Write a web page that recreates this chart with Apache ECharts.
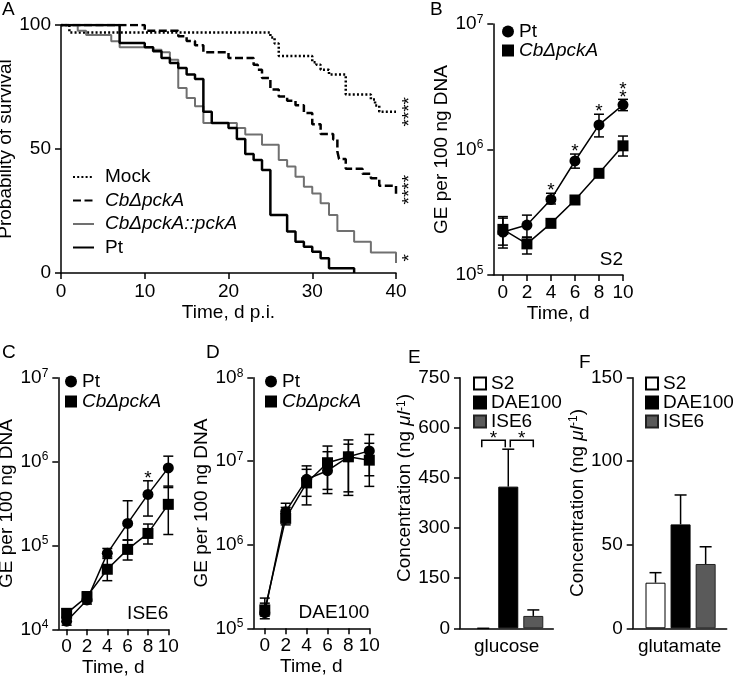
<!DOCTYPE html>
<html>
<head>
<meta charset="utf-8">
<script src="https://cdn.jsdelivr.net/npm/echarts@6/dist/echarts.min.js"></script>
<style>
  body { margin: 0; background: #fff; }
  .panel { position: absolute; left: 0; top: 0; width: 733px; height: 680px; }
</style>
</head>
<body>
<div id="pa" class="panel"></div>
<div id="pb" class="panel"></div>
<div id="pc" class="panel"></div>
<div id="pd" class="panel"></div>
<div id="pe" class="panel"></div>
<div id="pf" class="panel"></div>
<script>
var FONT = '"Liberation Sans", Arial, sans-serif';
var FS = 19;

// A - survival, [day, percent]
var mockSurv = [[0,100],[1,97],[25,95],[25.5,92.5],[26,87.5],[30,85],[30.5,84],[31,82],[32,80],[34,72],[37,70],[37.5,67.5],[38,65],[40,65]];
var mutSurv = [[0,100],[10,97.7],[14,95.5],[15,93.5],[16,91.8],[17,89],[20,86.7],[23,84],[23.5,82],[24,78.6],[25,74],[26,71.2],[27,69.5],[28,67.6],[29,64.5],[30,60],[31,56],[32.5,53.8],[33,49],[33.2,46],[34,42],[36,40],[37,38.2],[38,35.2],[40,32]];
var compSurv = [[0,100],[2,97.7],[3,96],[6,93.4],[7,91],[11,90],[12,89],[13,86],[14,74.6],[15,70.6],[16,67.2],[17,60.5],[21,58.5],[22,55.8],[24,51.7],[26,45.6],[27,42.9],[28,38.8],[29,34.8],[30,32.1],[31,28.1],[32,23.4],[33,16.9],[35,12.6],[37,8.3],[40,4]];
var ptSurv = [[0,100],[7,92.7],[10,91],[11,89.4],[12,86.7],[13,84.7],[14,82.7],[15,80],[16,78.2],[17,65],[18,60.5],[20,58.5],[21,54],[22,48],[23,45.6],[24,41.5],[25,23.4],[27,16.7],[28,12.6],[29,10.6],[30,8.6],[31,5.9],[32,1.9],[35,0]];

// B-D - genome equivalents per 100 ng DNA
var days = [0, 2, 4, 6, 8, 10];
var s2Pt    = [2.2e5, 2.5e5, 4.0e5, 8.1e5, 1.57e6, 2.27e6];
var s2PtLo  = [1.64e5, 2.0e5, 3.68e5, 7.1e5, 1.26e6, 2.04e6];
var s2PtHi  = [2.84e5, 3.0e5, 4.48e5, 9.2e5, 1.91e6, 2.51e6];
var s2Mut   = [2.31e5, 1.77e5, 2.58e5, 3.96e5, 6.46e5, 1.07e6];
var s2MutLo = [1.73e5, 1.47e5, 2.45e5, 3.8e5, 6.2e5, 8.87e5];
var s2MutHi = [2.92e5, 2.0e5, 2.72e5, 4.15e5, 6.75e5, 1.28e6];

var isePt    = [1.25e4, 2.24e4, 8.05e4, 1.83e5, 4.06e5, 8.4e5];
var isePtLo  = [1.12e4, 2.0e4, 7.0e4, 1.16e5, 2.24e5, 4.9e5];
var isePtHi  = [1.4e4, 2.5e4, 9.2e4, 3.41e5, 5.9e5, 1.16e6];
var iseMut   = [1.55e4, 2.45e4, 5.2e4, 8.97e4, 1.39e5, 3.09e5];
var iseMutLo = [1.38e4, 2.15e4, 3.8e4, 6.7e4, 1.04e5, 1.35e5];
var iseMutHi = [1.75e4, 2.8e4, 7.3e4, 1.16e5, 1.8e5, 5.1e5];

var daePt    = [1.54e5, 2.49e6, 6.08e6, 7.7e6, 1.13e7, 1.33e7];
var daePtLo  = [1.3e5, 1.9e6, 3.8e6, 4.6e6, 4.3e6, 6.7e6];
var daePtHi  = [2.3e5, 3.14e6, 8.8e6, 1.52e7, 1.8e7, 2.09e7];
var daeMut   = [1.66e5, 2.07e6, 5.5e6, 9.6e6, 1.13e7, 1.03e7];
var daeMutLo = [1.4e5, 1.73e6, 3.0e6, 4.1e6, 3.9e6, 5.0e6];
var daeMutHi = [2.0e5, 2.8e6, 8.0e6, 1.3e7, 1.6e7, 1.64e7];

// E, F - concentrations in media
var media = ['S2', 'DAE100', 'ISE6'];
var glucose     = [0, 424, 37];
var glucoseHi   = [0, 536, 55];
var glutamate   = [27.3, 62.2, 38.5];
var glutamateHi = [33.3, 79.8, 48.8];
var mediaColors = ['#fff', '#000', '#5a5a5a'];

//---------------------------------------------
var BLACK = '#000';

function axisLine() { return { show: true, onZero: false, lineStyle: { color: BLACK, width: 1.5 } }; }
function axisTick(vals) {
    var t = { show: true, length: 6, lineStyle: { color: BLACK, width: 1.5 } };
    if (vals) t.customValues = vals;
    return t;
}
function label(extra) {
    var l = { color: BLACK, fontSize: FS, fontFamily: FONT, margin: 9 };
    for (var k in extra) l[k] = extra[k];
    return l;
}
function nameStyle(extra) {
    var s = { color: BLACK, fontSize: FS, fontFamily: FONT };
    for (var k in extra) s[k] = extra[k];
    return s;
}
var supRich = {
    b: { fontSize: FS, fontFamily: FONT, color: BLACK, lineHeight: 21 },
    s: { fontSize: 12, fontFamily: FONT, color: BLACK, verticalAlign: 'top', lineHeight: 12 }
};
function pow10(v) {
    return '{b|10}{s|' + Math.round(Math.log(v) / Math.LN10) + '}';
}
function txt(x, y, s, align) {
    return { type: 'text', x: x, y: y, silent: true,
        style: { text: s, fontSize: FS, fontFamily: FONT, fill: BLACK,
                 align: align || 'left', textAlign: align || 'left',
                 verticalAlign: 'top', textVerticalAlign: 'top' } };
}

function errSeries(xs, lo, hi, cap, lowerCap) {
    var data = xs.map(function (x, i) { return [x, lo[i], hi[i]]; });
    return {
        type: 'custom', data: data, silent: true, z: 1, encode: { x: 0, y: [1, 2] },
        renderItem: function (params, api) {
            var x = api.value(0);
            var a = api.coord([x, api.value(1)]);
            var b = api.coord([x, api.value(2)]);
            var st = { stroke: BLACK, lineWidth: 1.5 };
            var kids = [
                { type: 'line', shape: { x1: a[0], y1: a[1], x2: b[0], y2: b[1] }, style: st },
                { type: 'line', shape: { x1: b[0] - cap, y1: b[1], x2: b[0] + cap, y2: b[1] }, style: st }
            ];
            if (lowerCap) kids.push({ type: 'line', shape: { x1: a[0] - cap, y1: a[1], x2: a[0] + cap, y2: a[1] }, style: st });
            return { type: 'group', children: kids };
        }
    };
}

function starSeries(points, texts, dy, rot) {
    return {
        type: 'custom', data: points, silent: true, z: 5, encode: { x: 0, y: 1 },
        renderItem: function (params, api) {
            var p = api.coord([api.value(0), api.value(1)]);
            var t = texts[params.dataIndex];
            var n = t.split('\n').length;
            return { type: 'text', x: p[0], y: p[1] + dy - (n - 1) * 4, rotation: rot || 0,
                style: { text: t, fontSize: FS, fontFamily: FONT, fill: BLACK, lineHeight: 8,
                         align: 'center', textAlign: 'center', verticalAlign: 'middle', textVerticalAlign: 'middle' } };
        }
    };
}

function pointSeries(name, sym, xs, ys) {
    return {
        type: 'line', name: name, data: xs.map(function (x, i) { return [x, ys[i]]; }),
        symbol: sym, symbolSize: 11, showSymbol: true, z: 3,
        itemStyle: { color: BLACK, borderWidth: 0 },
        lineStyle: { color: BLACK, width: 1.5 }
    };
}

function italicFmt(name) {
    return name.indexOf('Cb') === 0 ? '{i|' + name + '}' : name;
}
var legendText = { color: BLACK, fontSize: FS, fontFamily: FONT,
    rich: { i: { fontStyle: 'italic', fontSize: FS, fontFamily: FONT, color: BLACK } } };

//---------------------------------------------
//  A  survival
//---------------------------------------------
function drawSurvival() {
    var chart = echarts.init(document.getElementById('pa'));
    function km(name, data, color, width, type) {
        return { type: 'line', name: name, step: 'end', data: data, symbol: 'none',
            lineStyle: { color: color, width: width, type: type, cap: 'butt' },
            itemStyle: { color: color } };
    }
    function last2(d) { return (d[d.length - 1][1] + d[d.length - 2][1]) / 2; }
    var option = {
        animation: false,
        grid: { left: 61, top: 25, width: 335, height: 248, outerBoundsMode: 'none' },
        xAxis: { type: 'value', min: 0, max: 40, interval: 10,
            name: 'Time, d p.i.', nameLocation: 'middle', nameGap: 30, nameTextStyle: nameStyle(),
            axisLine: axisLine(), axisTick: axisTick(), axisLabel: label(), splitLine: { show: false } },
        yAxis: { type: 'value', min: 0, max: 100, interval: 50,
            name: 'Probability of survival', nameLocation: 'middle', nameGap: 39, nameTextStyle: nameStyle(),
            axisLine: axisLine(), axisTick: axisTick(), axisLabel: label({ margin: 10 }), splitLine: { show: false } },
        legend: { orient: 'vertical', left: 72, top: 167.5, padding: 0, itemGap: 4.5,
            itemWidth: 21, itemHeight: 14, selectedMode: false,
            itemStyle: { opacity: 0 },
            data: ['Mock', 'CbΔpckA', 'CbΔpckA::pckA', 'Pt'],
            formatter: italicFmt, textStyle: Object.assign({ padding: [0, 0, 0, 6] }, legendText) },
        graphic: [txt(2, 0, 'A'), txt(430, 0, 'B')],
        series: [
            km('Mock', mockSurv, BLACK, 2.5, [2, 2.2]),
            km('CbΔpckA', mutSurv, BLACK, 2.5, [8, 3.5]),
            km('CbΔpckA::pckA', compSurv, '#707070', 2, 'solid'),
            km('Pt', ptSurv, BLACK, 2.5, 'solid'),
            starSeries([[41.67, last2(mockSurv)], [41.67, last2(mutSurv)], [41.67, last2(compSurv)]],
                ['****', '****', '*'], 0, Math.PI / 2)
        ]
    };
    chart.setOption(option);
}

//---------------------------------------------
//  B-D  growth curves
//---------------------------------------------
function drawGrowth(id, grid, xMin, yMin, yMax, nameGap, legendPos, medium, pt, ptLo, ptHi, mut, mutLo, mutHi, stars, extra) {
    var chart = echarts.init(document.getElementById(id));
    var ticks = days.slice();
    var option = {
        animation: false,
        grid: Object.assign({ outerBoundsMode: 'none' }, grid),
        xAxis: { type: 'value', min: xMin, max: 10,
            name: 'Time, d', nameLocation: 'middle', nameGap: 29, nameTextStyle: nameStyle(),
            axisLine: axisLine(), axisTick: axisTick(ticks),
            axisLabel: label({ customValues: ticks, margin: 8 }), splitLine: { show: false } },
        yAxis: { type: 'log', logBase: 10, min: yMin, max: yMax,
            name: 'GE per 100 ng DNA', nameLocation: 'middle', nameGap: nameGap, nameTextStyle: nameStyle(),
            axisLine: axisLine(), axisTick: axisTick(), minorTick: { show: false },
            axisLabel: label({ margin: 10, formatter: pow10, rich: supRich }), splitLine: { show: false } },
        legend: { orient: 'vertical', left: legendPos[0], top: legendPos[1], padding: 0, itemGap: legendPos[2],
            itemWidth: 12, itemHeight: 12, selectedMode: false,
            data: [{ name: 'Pt', icon: 'circle' }, { name: 'CbΔpckA', icon: 'rect' }],
            formatter: italicFmt, textStyle: legendText },
        graphic: extra.concat([txt(grid.left + grid.width, grid.top + grid.height - 25, medium, 'right')]),
        series: [
            errSeries(days, ptLo, ptHi, 5, true),
            errSeries(days, mutLo, mutHi, 5, true),
            pointSeries('Pt', 'circle', days, pt),
            pointSeries('CbΔpckA', 'rect', days, mut)
        ]
    };
    if (stars) option.series.push(starSeries(stars[0], stars[1], -2, 0));
    chart.setOption(option);
}

//---------------------------------------------
//  E-F  bars
//---------------------------------------------
function drawBars(id, grid, xMin, xMax, yMax, yInt, nameGap, namePad, catName, vals, hiVals, legendLeft, extra, brackets) {
    var chart = echarts.init(document.getElementById(id));
    var series = media.map(function (m, i) {
        return { type: 'bar', name: m, barWidth: 20, barGap: '-100%', z: 2,
            data: [{ value: [i, vals[i]], itemStyle: vals[i] > 0 ? {} : { borderWidth: 0 } }],
            itemStyle: { color: mediaColors[i], borderColor: i === 2 ? '#222' : BLACK, borderWidth: 1 } };
    });
    series.push(errSeries([0, 1, 2], vals, hiVals, 6, false));
    if (brackets) {
        series.push({
            type: 'custom', data: [[0, 1], [1, 2]], silent: true, z: 5, encode: { x: [0, 1] },
            renderItem: function (params, api) {
                var top = Math.max.apply(null, hiVals);
                var a = api.coord([api.value(0), top]);
                var b = api.coord([api.value(1), top]);
                var y = a[1] - 9;
                var x1 = a[0] + (params.dataIndex === 0 ? -1.5 : 2);
                var x2 = b[0] + (params.dataIndex === 0 ? -3 : 0);
                return { type: 'group', children: [
                    { type: 'polyline', shape: { points: [[x1, y + 7], [x1, y], [x2, y], [x2, y + 7]] },
                      style: { stroke: BLACK, lineWidth: 1.5, fill: null } },
                    { type: 'text', x: (x1 + x2) / 2, y: y - 1,
                      style: { text: '*', fontSize: FS, fontFamily: FONT, fill: BLACK,
                               align: 'center', textAlign: 'center', verticalAlign: 'middle', textVerticalAlign: 'middle' } }
                ] };
            }
        });
    }
    var option = {
        animation: false,
        grid: Object.assign({ outerBoundsMode: 'none' }, grid),
        xAxis: { type: 'value', min: xMin, max: xMax,
            name: catName, nameLocation: 'middle', nameGap: 9, nameTextStyle: nameStyle(),
            axisLine: axisLine(), axisTick: { show: false }, axisLabel: { show: false }, splitLine: { show: false } },
        yAxis: { type: 'value', min: 0, max: yMax, interval: yInt,
            name: 'Concentration (ng {i|μl}{s|-1})', nameLocation: 'middle', nameGap: nameGap,
            nameTextStyle: nameStyle({ padding: namePad, rich: {
                i: { fontStyle: 'italic', fontSize: FS, fontFamily: FONT, color: BLACK },
                s: { fontSize: 12, fontFamily: FONT, color: BLACK, verticalAlign: 'top', lineHeight: 12 } } }),
            axisLine: axisLine(), axisTick: axisTick(), axisLabel: label({ margin: 10 }), splitLine: { show: false } },
        legend: { orient: 'vertical', left: legendLeft, top: 374, padding: 0, itemGap: 0,
            itemWidth: 12, itemHeight: 12, selectedMode: false, icon: 'rect',
            data: media, textStyle: legendText },
        graphic: extra,
        series: series
    };
    chart.setOption(option);
}

drawSurvival();
drawGrowth('pb', { left: 493.3, top: 24, width: 129.7, height: 251 }, -0.8, 1e5, 1e7, 42, [502, 22, 0], 'S2',
    s2Pt, s2PtLo, s2PtHi, s2Mut, s2MutLo, s2MutHi,
    [[[4, s2PtHi[2]], [6, s2PtHi[3]], [8, s2PtHi[4]], [10, s2PtHi[5]]], ['*', '*', '*', '*\n*']], []);
drawGrowth('pc', { left: 58.3, top: 377.7, width: 110, height: 251.6 }, -0.82, 1e4, 1e7, 38, [65, 372, 1], 'ISE6',
    isePt, isePtLo, isePtHi, iseMut, iseMutLo, iseMutHi,
    [[[8, isePtHi[4]]], ['*']], [txt(2, 343, 'C')]);
drawGrowth('pd', { left: 253.3, top: 377.7, width: 116, height: 250.6 }, -1.1, 1e5, 1e8, 35, [265, 372, 1], 'DAE100',
    daePt, daePtLo, daePtHi, daeMut, daeMutLo, daeMutHi, null, [txt(206, 343, 'D')]);
drawBars('pe', { left: 460, top: 377.7, width: 93.3, height: 250.6 }, -0.93, 2.8, 750, 150, 43, [0, 0, 0, 30],
    'glucose', glucose, glucoseHi, 473, [txt(408, 348, 'E')], true);
drawBars('pf', { left: 632.7, top: 377.7, width: 94, height: 250.6 }, -0.91, 2.84, 150, 50, 41, [0, 0, 0, 0],
    'glutamate', glutamate, glutamateHi, 645, [txt(579, 353, 'F')], false);
</script>
</body>
</html>
